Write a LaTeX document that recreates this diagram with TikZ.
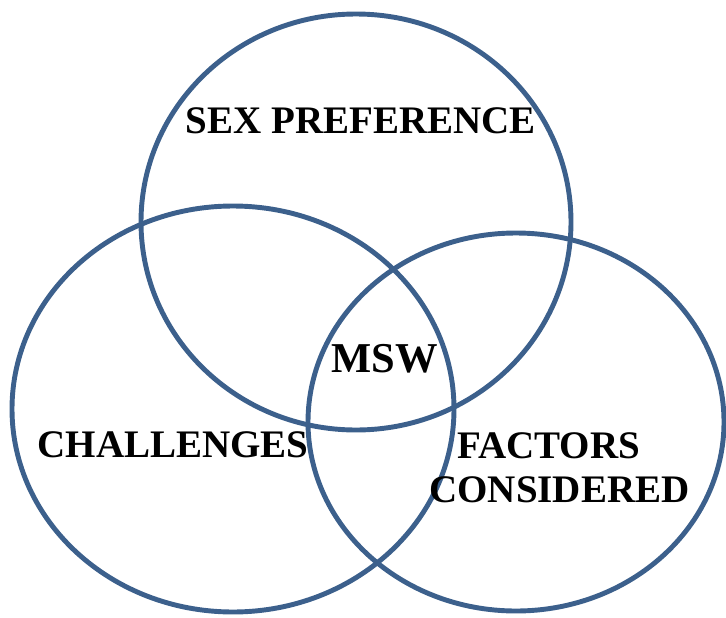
\documentclass[tikz,border=0pt]{standalone}
\usepackage{fontspec}
\setmainfont{Liberation Serif}
\usetikzlibrary{shapes.geometric}
\definecolor{ringblue}{RGB}{60,96,140}

\begin{document}
\begin{tikzpicture}[
        setring/.style={ellipse, draw=ringblue, line width=2.8pt, inner sep=0pt},
        settext/.style={font=\bfseries\fontsize{22.2}{25}\selectfont, text=black, align=center, inner sep=0pt}
    ]
    \useasboundingbox (0,0) rectangle (14.52,12.34);

    % the three sets
    \node[setring, minimum width=8.60cm, minimum height=8.32cm] (sex) at (7.12, 7.90) {};
    \node[setring, minimum width=8.84cm, minimum height=8.12cm] (chal) at (4.66, 4.16) {};
    \node[setring, minimum width=8.32cm, minimum height=7.56cm] (fact) at (10.32, 3.90) {};

    % labels
    \node[settext] (sexlbl) at (7.22, 9.92) {SEX PREFERENCE};
    \node[settext, font=\bfseries\fontsize{24.2}{27}\selectfont] (msw) at (7.70, 5.16) {MSW};
    \node[settext] (challbl) at (3.46, 3.44) {CHALLENGES};
    \node[settext] (factlbl) at (11.19, 2.99) {FACTORS\hspace*{0.44cm}\\CONSIDERED};
\end{tikzpicture}
\end{document}
